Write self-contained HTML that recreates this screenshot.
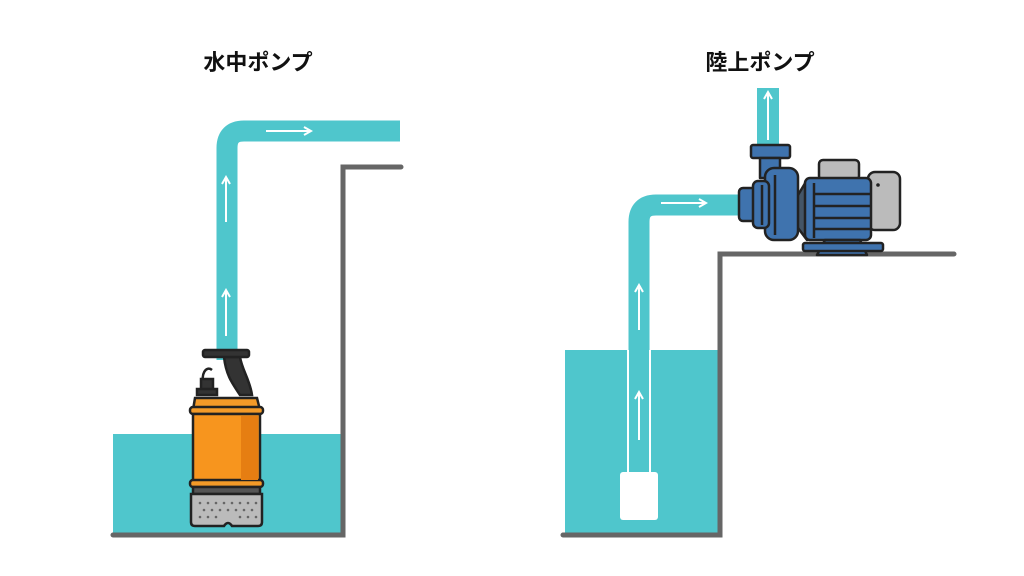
<!DOCTYPE html>
<html><head><meta charset="utf-8"><style>
html,body{margin:0;padding:0;background:#fff;width:1024px;height:576px;overflow:hidden}
text{font-family:"Liberation Sans","Noto Sans CJK JP",sans-serif;font-weight:bold}
</style></head><body>
<svg width="1024" height="576" viewBox="0 0 1024 576" xmlns="http://www.w3.org/2000/svg">
<defs>
<marker id="ah" markerWidth="10" markerHeight="10" refX="8" refY="5" orient="auto" markerUnits="userSpaceOnUse">
<path d="M1,1 L8,5 L1,9" fill="none" stroke="#fff" stroke-width="2"/></marker>
</defs>
<text x="258" y="70" font-size="22" text-anchor="middle" fill="#111">水中ポンプ</text>
<text x="760" y="70" font-size="22" text-anchor="middle" fill="#111">陸上ポンプ</text>

<!-- LEFT -->
<rect x="113" y="434" width="228" height="101" fill="#4fc6cc"/>
<path d="M113,535 H343 V167 H401" fill="none" stroke="#666" stroke-width="5" stroke-linecap="round"/>
<path d="M227,360 V148 Q227,131 244,131 H400" fill="none" stroke="#4fc6cc" stroke-width="21"/>
<line x1="266" y1="131" x2="311" y2="131" stroke="#fff" stroke-width="2" marker-end="url(#ah)"/>
<line x1="226" y1="222" x2="226" y2="177" stroke="#fff" stroke-width="2" marker-end="url(#ah)"/>
<line x1="226" y1="336" x2="226" y2="290" stroke="#fff" stroke-width="2" marker-end="url(#ah)"/>
<!-- submersible pump -->
<g stroke="#222" stroke-width="2.5">
<path d="M224,357 C226,375 232,383 240,395 L252,395 C250,380 242,370 240,357 Z" fill="#333"/>
<rect x="203" y="350" width="46" height="7" rx="2" fill="#333"/>
<path d="M204,385 C200,375 206,365 212,370" fill="none"/>
<rect x="201" y="379" width="12" height="12" fill="#333"/>
<rect x="197" y="389" width="20" height="6" fill="#333"/>
<path d="M193,410 L195,398 H257 L260,410 Z" fill="#f39a28"/>
<rect x="190" y="407" width="73" height="7" rx="3" fill="#f39a28"/>
<rect x="193" y="414" width="67" height="68" fill="#f7951e"/>
<rect x="190" y="480" width="73" height="7" rx="3" fill="#f39a28"/>
<rect x="193" y="487" width="67" height="7" fill="#555"/>
<path d="M191,494 H262 V522 Q262,526 258,526 H232 Q228,520 224,526 H195 Q191,526 191,522 Z" fill="#bbb"/>
</g>
<rect x="241" y="416" width="17" height="64" fill="#e67e12"/>
<g fill="#666">
<circle cx="200" cy="503" r="1.3"/><circle cx="208" cy="503" r="1.3"/><circle cx="216" cy="503" r="1.3"/><circle cx="224" cy="503" r="1.3"/><circle cx="232" cy="503" r="1.3"/><circle cx="240" cy="503" r="1.3"/><circle cx="248" cy="503" r="1.3"/><circle cx="256" cy="503" r="1.3"/>
<circle cx="204" cy="510" r="1.3"/><circle cx="212" cy="510" r="1.3"/><circle cx="220" cy="510" r="1.3"/><circle cx="228" cy="510" r="1.3"/><circle cx="236" cy="510" r="1.3"/><circle cx="244" cy="510" r="1.3"/><circle cx="252" cy="510" r="1.3"/>
<circle cx="200" cy="517" r="1.3"/><circle cx="208" cy="517" r="1.3"/><circle cx="216" cy="517" r="1.3"/><circle cx="240" cy="517" r="1.3"/><circle cx="248" cy="517" r="1.3"/><circle cx="256" cy="517" r="1.3"/>
</g>

<!-- RIGHT -->
<rect x="565" y="350" width="153" height="184" fill="#4fc6cc"/>
<path d="M563,535 H720 V254 H954" fill="none" stroke="#666" stroke-width="5" stroke-linecap="round"/>
<path d="M639,473 V222 Q639,205 656,205 H745" fill="none" stroke="#4fc6cc" stroke-width="21"/>
<line x1="628" y1="350" x2="628" y2="473" stroke="#fff" stroke-width="2"/>
<line x1="650" y1="350" x2="650" y2="473" stroke="#fff" stroke-width="2"/>
<rect x="620" y="472" width="38" height="48" rx="3" fill="#fff"/>
<rect x="757" y="88" width="22" height="60" fill="#4fc6cc"/>
<line x1="661" y1="203" x2="706" y2="203" stroke="#fff" stroke-width="2" marker-end="url(#ah)"/>
<line x1="768" y1="140" x2="768" y2="92" stroke="#fff" stroke-width="2" marker-end="url(#ah)"/>
<line x1="639" y1="440" x2="639" y2="392" stroke="#fff" stroke-width="2" marker-end="url(#ah)"/>
<line x1="639" y1="330" x2="639" y2="285" stroke="#fff" stroke-width="2" marker-end="url(#ah)"/>
<!-- surface pump -->
<g stroke="#222" stroke-width="2.5" stroke-linejoin="round">
<rect x="819" y="160" width="40" height="20" rx="4" fill="#bbb"/>
<rect x="868" y="172" width="32" height="58" rx="7" fill="#bbb"/>
<path d="M792,205 L807,180 V240 L792,220 Z" fill="#456"/>
<rect x="805" y="178" width="66" height="62" rx="5" fill="#3f73ae"/>
<path d="M825,240 L817,255 H867 L860,240 Z" fill="#3f73ae"/>
<rect x="803" y="243" width="80" height="8" rx="2" fill="#3f73ae"/>
<rect x="751" y="145" width="39" height="13" rx="2" fill="#3f73ae"/>
<rect x="760" y="158" width="20" height="20" fill="#3f73ae"/>
<rect x="765" y="168" width="33" height="72" rx="9" fill="#3f73ae"/>
<rect x="739" y="188" width="18" height="33" rx="4" fill="#3f73ae"/>
<rect x="753" y="181" width="16" height="47" rx="5" fill="#3f73ae"/>
</g>
<g stroke="#222" stroke-width="2.5">
<line x1="814" y1="194" x2="871" y2="194"/><line x1="814" y1="206" x2="871" y2="206"/>
<line x1="814" y1="218" x2="871" y2="218"/><line x1="814" y1="229" x2="871" y2="229"/>
<line x1="814" y1="183" x2="814" y2="238"/><line x1="775" y1="175" x2="775" y2="235"/>
<line x1="762" y1="185" x2="762" y2="225"/>
</g>
<circle cx="878" cy="185" r="1.8" fill="#222"/>
</svg>
</body></html>
